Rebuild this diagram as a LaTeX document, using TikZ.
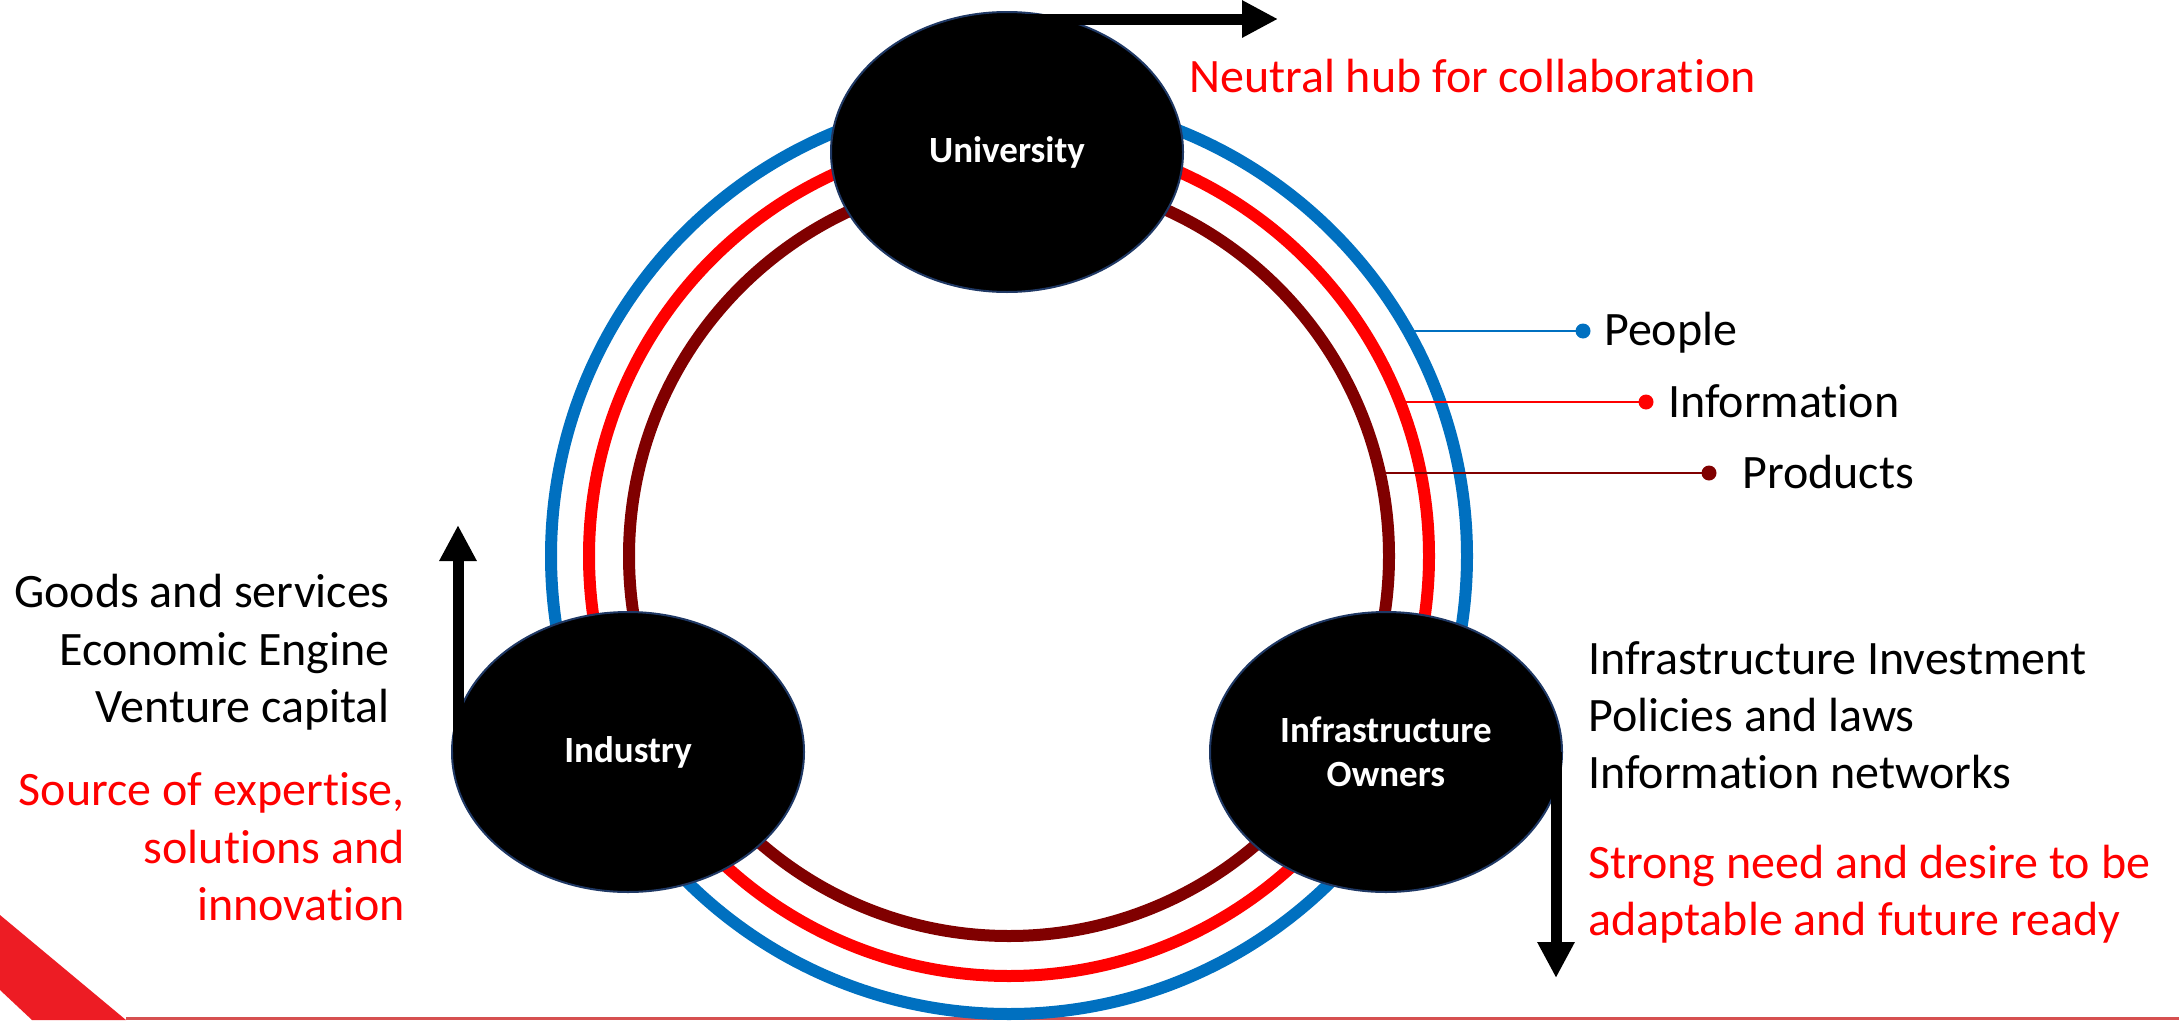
\documentclass[tikz,border=0pt]{standalone}
\usepackage{fontspec}
\setmainfont{Carlito}[Ligatures=NoCommon]
\usetikzlibrary{arrows.meta,shapes.geometric}
\definecolor{ringblue}{RGB}{0,112,192}
\definecolor{ringred}{RGB}{255,0,0}
\definecolor{ringdark}{RGB}{128,0,0}
\definecolor{edgenavy}{RGB}{31,56,100}
\definecolor{stripered}{RGB}{237,28,36}
\definecolor{footred}{RGB}{214,80,80}
\definecolor{txtred}{RGB}{255,0,0}
\begin{document}
\begin{tikzpicture}[x=1pt,y=-1pt,
  ring/.style={line width=12pt},
  actor/.style={ellipse, fill=black, draw=edgenavy, line width=2pt,
    minimum width=352pt, minimum height=280pt, outer sep=0pt, inner sep=0pt,
    text=white, font=\fontsize{37}{44}\selectfont\bfseries, align=center},
  bigtext/.style={font=\fontsize{48}{57}\selectfont, inner sep=0pt},
  legline/.style={line width=2.5pt},
  legdot/.style={circle, minimum size=15pt, inner sep=0pt, outer sep=0pt},
  flow/.style={line width=11pt, -{Triangle[length=36pt,width=35pt]}},
]
\useasboundingbox (0,0) rectangle (2179,1020);

% bottom decoration
\fill[stripered] (0,915) -- (126,1020) -- (32,1020) -- (0,990) -- cycle;
\draw[footred, line width=2.5pt] (126,1018.5) -- (2179,1018.5);

% rings
\coordinate (hub) at (1009,556);
\draw[ring, ringblue] (hub) circle[radius=458pt];
\draw[ring, ringred] (hub) circle[radius=420pt];
\draw[ring, ringdark] (hub) circle[radius=380pt];

% legend
\coordinate (spPeople) at (1408,331);
\coordinate (spInfo) at (1400,402);
\coordinate (spProd) at (1380,473);
\node[legdot, fill=ringblue] (dPeople) at (1583,331) {};
\node[legdot, fill=ringred] (dInfo) at (1646,402) {};
\node[legdot, fill=ringdark] (dProd) at (1709,473) {};
\draw[legline, ringblue] (spPeople) -- (dPeople);
\draw[legline, ringred] (spInfo) -- (dInfo);
\draw[legline, ringdark] (spProd) -- (dProd);
\node[bigtext, anchor=base west] (tPeople) at (1604,345) {People};
\node[bigtext, anchor=base west] (tInfo) at (1668,417) {Information};
\node[bigtext, anchor=base west] (tProd) at (1742,488) {Products};

% actors
\node[actor] (uni) at (1007,152) {University};
\node[actor] (ind) at (628,752) {Industry};
\node[actor] (own) at (1386,752) {Infrastructure\\Owners};

% arrows
\coordinate (uniTip) at (1278,19);
\coordinate (indTip) at (458,525);
\coordinate (ownTip) at (1556,978);
\draw[flow] ([yshift=-7pt]uni.north) -- (uniTip);
\draw[flow] ([xshift=6pt]ind.west) -- (indTip);
\draw[flow] ([xshift=-6pt]own.east) -- (ownTip);

% top text
\node[bigtext, text=txtred, anchor=base west] (uniNote) at (1189,92) {Neutral hub for collaboration};

% left texts
\node[bigtext, anchor=base east] (l1) at (390,607) {Goods and services};
\node[bigtext, anchor=base east] (l2) at (390,665) {Economic Engine};
\node[bigtext, anchor=base east] (l3) at (390,722) {Venture capital};
\node[bigtext, text=txtred, anchor=base east] (l4) at (405,805) {Source of expertise,};
\node[bigtext, text=txtred, anchor=base east] (l5) at (405,863) {solutions and};
\node[bigtext, text=txtred, anchor=base east] (l6) at (405,920) {innovation};

% right texts
\node[bigtext, anchor=base west] (r1) at (1588,674) {Infrastructure Investment};
\node[bigtext, anchor=base west] (r2) at (1588,731) {Policies and laws};
\node[bigtext, anchor=base west] (r3) at (1588,788) {Information networks};
\node[bigtext, text=txtred, anchor=base west] (r4) at (1588,878) {Strong need and desire to be};
\node[bigtext, text=txtred, anchor=base west] (r5) at (1588,935) {adaptable and future ready};
\end{tikzpicture}
\end{document}
